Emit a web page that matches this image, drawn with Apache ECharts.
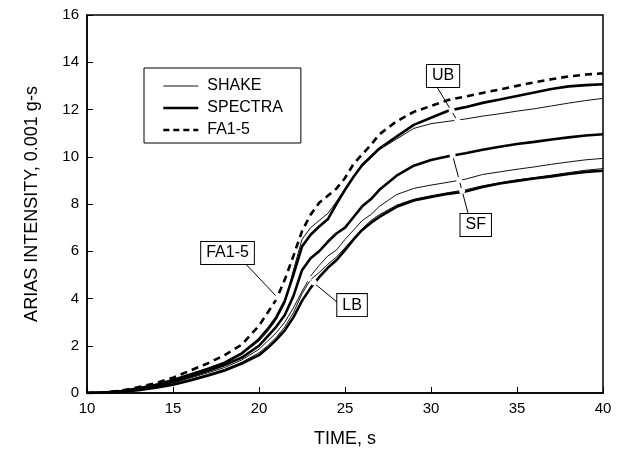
<!DOCTYPE html>
<html>
<head>
<meta charset="utf-8">
<script src="https://cdn.jsdelivr.net/npm/echarts@6/dist/echarts.min.js"></script>
<style>
html,body{margin:0;padding:0;background:#fff;}
#c{width:621px;height:455px;}
</style>
</head>
<body>
<div id="c"></div>
<script>
// time, s
const time = [10, 11, 12, 13, 14, 15, 16, 17, 18, 19, 20, 20.5, 21, 21.5, 22, 22.5, 23, 23.5, 24, 24.5, 25, 25.5, 26, 26.5, 27, 28, 29, 30, 31, 32, 33, 34, 35, 36, 37, 38, 39, 40];
// Arias intensity, 0.001 g-s
const fa15      = [0, 0.02, 0.10, 0.25, 0.42, 0.65, 0.95, 1.25, 1.60, 2.05, 2.85, 3.40, 3.95, 4.80, 5.80, 6.85, 7.55, 8.05, 8.35, 8.65, 9.10, 9.70, 10.10, 10.50, 10.95, 11.50, 11.90, 12.15, 12.40, 12.55, 12.70, 12.85, 13.00, 13.15, 13.28, 13.40, 13.48, 13.53];
const spectraUB = [0, 0.02, 0.08, 0.20, 0.35, 0.55, 0.78, 1.02, 1.28, 1.68, 2.28, 2.70, 3.20, 3.90, 5.00, 6.20, 6.70, 7.05, 7.35, 8.00, 8.60, 9.15, 9.65, 10.00, 10.35, 10.85, 11.35, 11.65, 11.95, 12.10, 12.28, 12.42, 12.57, 12.72, 12.87, 12.98, 13.03, 13.07];
const shakeUB   = [0, 0.02, 0.07, 0.18, 0.32, 0.50, 0.74, 0.98, 1.24, 1.64, 2.20, 2.60, 3.10, 3.80, 5.20, 6.50, 7.00, 7.30, 7.60, 8.10, 8.65, 9.15, 9.60, 9.95, 10.30, 10.75, 11.20, 11.40, 11.50, 11.60, 11.72, 11.82, 11.93, 12.03, 12.15, 12.27, 12.38, 12.47];
const spectraSF = [0, 0.02, 0.07, 0.17, 0.30, 0.48, 0.70, 0.93, 1.18, 1.50, 2.00, 2.40, 2.80, 3.30, 4.10, 5.20, 5.70, 6.00, 6.40, 6.75, 7.00, 7.45, 7.90, 8.20, 8.60, 9.20, 9.62, 9.86, 10.02, 10.15, 10.30, 10.42, 10.54, 10.63, 10.73, 10.82, 10.90, 10.95];
const shakeSF   = [0, 0.02, 0.06, 0.15, 0.27, 0.42, 0.63, 0.85, 1.08, 1.40, 1.85, 2.20, 2.55, 3.00, 3.60, 4.30, 4.95, 5.40, 5.80, 6.05, 6.50, 6.90, 7.30, 7.55, 7.90, 8.40, 8.66, 8.80, 8.92, 9.05, 9.25, 9.36, 9.47, 9.57, 9.68, 9.78, 9.87, 9.93];
const shakeLB   = [0, 0.015, 0.05, 0.13, 0.24, 0.38, 0.57, 0.78, 1.00, 1.30, 1.70, 2.00, 2.35, 2.80, 3.40, 4.20, 4.80, 5.10, 5.45, 5.75, 6.15, 6.55, 6.95, 7.30, 7.55, 7.95, 8.20, 8.35, 8.48, 8.60, 8.77, 8.90, 9.02, 9.12, 9.22, 9.33, 9.43, 9.50];
const spectraLB = [0, 0.015, 0.05, 0.12, 0.22, 0.35, 0.53, 0.73, 0.95, 1.25, 1.60, 1.90, 2.25, 2.65, 3.20, 3.90, 4.45, 4.90, 5.30, 5.62, 6.05, 6.50, 6.90, 7.20, 7.45, 7.88, 8.15, 8.30, 8.43, 8.53, 8.72, 8.87, 8.98, 9.08, 9.17, 9.27, 9.36, 9.41];

const xTicks = [10, 15, 20, 25, 30, 35, 40];
const yTicks = [0, 2, 4, 6, 8, 10, 12, 14, 16];

// annotation labels: [text, x, y]
const boxLabels = [['FA1-5', 18.17, 5.93], ['LB', 25.41, 3.72], ['UB', 30.7, 13.42], ['SF', 32.6, 7.11]];
// leader lines: [x1, y1, x2, y2]
const leaders = [[19.28, 5.42, 21.09, 4.03], [24.52, 3.86, 22.87, 4.85], [30.35, 12.95, 31.53, 11.53], [32.15, 7.62, 31.26, 10.05]];
// leader end points on curves
const leaderDots = [[21.09, 4.03], [23.2, 4.68], [22.87, 4.85], [31.2, 11.98], [31.53, 11.53], [31.26, 10.05], [31.64, 9.02], [31.81, 8.56]];

const FONT = '"Liberation Sans", Arial, Helvetica, sans-serif';
const pair = arr => time.map((t, i) => [t, arr[i]]);

const thin = {color: '#111', width: 1};
const thick = {color: '#000', width: 2.6};
const dashed = {color: '#000', width: 2.6, type: [7, 5]};

function mk(name, data, ls, z) {
  return {name, type: 'line', data: pair(data), symbol: 'none', showSymbol: false,
    lineStyle: ls, itemStyle: {color: '#000'}, z: z, animation: false};
}

const series = [
  mk('SHAKE', shakeUB, thin, 2),
  mk('SHAKE', shakeSF, thin, 2),
  mk('SHAKE', shakeLB, thin, 2),
  mk('SPECTRA', spectraUB, thick, 3),
  mk('SPECTRA', spectraSF, thick, 3),
  mk('SPECTRA', spectraLB, thick, 3),
  mk('FA1-5', fa15, dashed, 4)
];

series.push({
  name: 'annot', type: 'line', data: [], symbol: 'none', z: 10, animation: false,
  markLine: {
    silent: true, animation: false, symbol: ['none', 'none'],
    lineStyle: {color: '#000', width: 1, type: 'solid'},
    label: {show: false},
    data: leaders.map(l => [{coord: [l[0], l[1]]}, {coord: [l[2], l[3]]}])
  },
  markPoint: {
    silent: true, animation: false,
    data: boxLabels.map(b => ({
      coord: [b[1], b[2]], symbol: 'rect', symbolSize: 0,
      label: {show: true, position: 'inside', formatter: b[0], color: '#000', fontSize: 16,
        fontFamily: FONT, backgroundColor: '#fff', borderColor: '#000', borderWidth: 1,
        padding: [4, 5, 2, 5]}
    })).concat(leaderDots.map(d => ({
      coord: d, symbol: 'emptyCircle', symbolSize: 4,
      itemStyle: {color: '#fff', borderColor: '#000', borderWidth: 1},
      label: {show: false}
    })))
  }
});

const chart = echarts.init(document.getElementById('c'), null, {renderer: 'canvas'});
chart.setOption({
  animation: false,
  backgroundColor: '#fff',
  textStyle: {fontFamily: FONT},
  grid: {left: 87, right: 18, top: 15, bottom: 62, show: true, borderColor: '#000', borderWidth: 1.5, backgroundColor: 'transparent'},
  legend: {
    data: [
      {name: 'SHAKE', lineStyle: {width: 1, color: '#111', type: 'solid'}},
      {name: 'SPECTRA', lineStyle: {width: 2.6, color: '#000', type: 'solid'}},
      {name: 'FA1-5', lineStyle: {width: 2.4, color: '#000', type: [6, 4]}}
    ],
    orient: 'vertical', left: 144, top: 68,
    padding: [10, 18, 5, 18], itemGap: 6, itemWidth: 35, itemHeight: 16,
    borderColor: '#000', borderWidth: 1, backgroundColor: '#fff',
    itemStyle: {opacity: 0, borderWidth: 0},
    textStyle: {fontSize: 16, color: '#000', fontFamily: FONT, padding: [0, 0, 0, 4]},
    selectedMode: false
  },
  xAxis: {
    type: 'value', min: 10, max: 40, interval: 5,
    name: 'TIME, s', nameLocation: 'middle', nameGap: 37,
    nameTextStyle: {fontSize: 18, color: '#000', fontFamily: FONT},
    axisLine: {lineStyle: {color: '#000', width: 1.5}},
    axisTick: {inside: true, length: 6, lineStyle: {color: '#000', width: 1}},
    axisLabel: {fontSize: 15, color: '#000', margin: 8, fontFamily: FONT,
      formatter: v => xTicks.includes(v) ? String(v) : ''},
    splitLine: {show: false}
  },
  yAxis: {
    type: 'value', min: 0, max: 16, interval: 2,
    name: 'ARIAS INTENSITY, 0.001 g-s', nameLocation: 'middle', nameGap: 46,
    nameTextStyle: {fontSize: 18, color: '#000', fontFamily: FONT},
    axisLine: {lineStyle: {color: '#000', width: 1.5}},
    axisTick: {inside: true, length: 6, lineStyle: {color: '#000', width: 1}},
    axisLabel: {fontSize: 15, color: '#000', margin: 8, fontFamily: FONT,
      formatter: v => yTicks.includes(v) ? String(v) : ''},
    splitLine: {show: false}
  },
  series: series
});
</script>
</body>
</html>
